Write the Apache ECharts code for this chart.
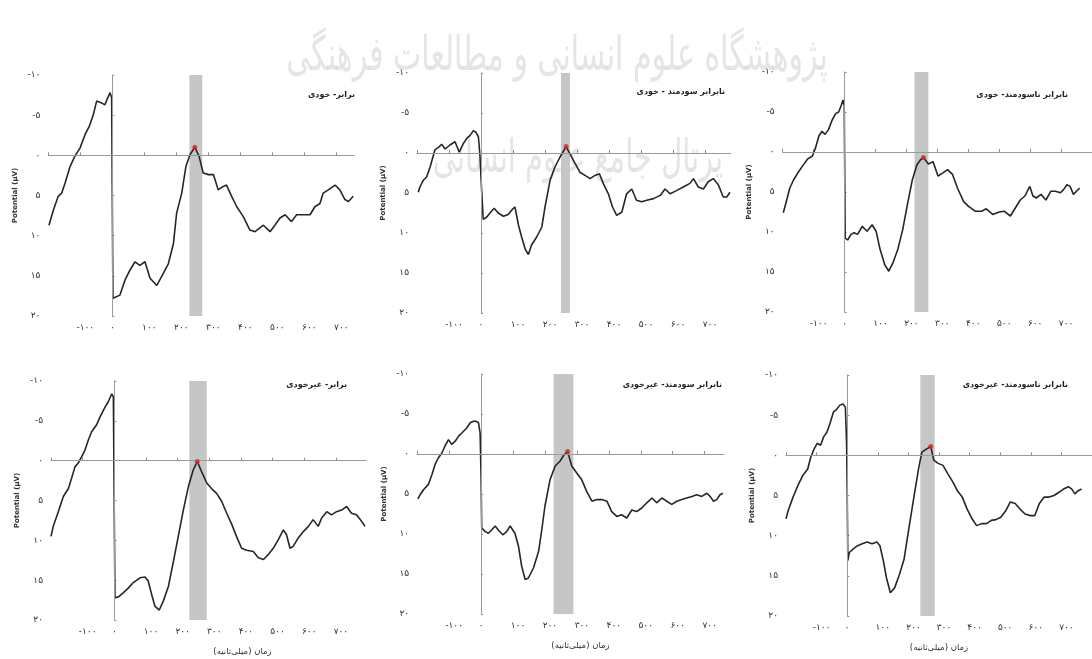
<!DOCTYPE html>
<html>
<head>
<meta charset="utf-8">
<script src="https://cdn.jsdelivr.net/npm/echarts/dist/echarts.min.js"></script>
<style>
html,body{margin:0;padding:0;background:#fff;}
#chart{width:1092px;height:659px;}
</style>
</head>
<body>
<div id="chart"></div>
<script>
// ---------- data ----------
const panelTitles = ['برابر- خودی','نابرابر سودمند - خودی','نابرابر ناسودمند- خودی','برابر- غیرخودی','نابرابر سودمند- غیرخودی','نابرابر ناسودمند- غیرخودی'];
const yAxisName = 'Potential (μV)';
const xAxisName = 'زمان (میلی‌ثانیه)';
const xTickValues = [-100, 0, 100, 200, 300, 400, 500, 600, 700];
const xTickLabels = ['-۱۰۰','۰','۱۰۰','۲۰۰','۳۰۰','۴۰۰','۵۰۰','۶۰۰','۷۰۰'];
const yTickValues = [-10, -5, 0, 5, 10, 15, 20];
const yTickLabels = ['-۱۰','-۵','۰','۵','۱۰','۱۵','۲۰'];
const watermarkLines = ['پژوهشگاه علوم انسانی و مطالعات فرهنگی','پرتال جامع علوم انسانی'];

const bandStart = [241, 250, 226, 237, 227, 239];
const bandEnd   = [281, 278, 271, 292, 289, 286];
const peakTime  = [258, 266, 255, 262, 271, 273];
const peakValue = [-1.0, -0.8, 0.7, 0.1, -0.3, -1.1];

const p1Time = [-198,-184,-169,-158,-148,-132,-117,-101,-85,-72,-59,-49,-33,-23,-16,-7,-2,2,8,24,40,55,71,86,102,118,139,154,175,191,201,217,230,243,258,271,284,300,316,331,345,357,373,389,409,430,446,472,493,508,524,540,560,576,597,618,633,649,659,675,696,711,727,738,753];
const p1Volt = [8.7,6.8,5.1,4.7,3.5,1.4,0.1,-0.9,-2.6,-3.6,-5.1,-6.75,-6.5,-6.3,-7.0,-7.8,-7.2,17.8,17.8,17.4,15.5,14.3,13.25,13.7,13.25,15.3,16.2,15.1,13.5,11.0,7.2,4.7,1.4,-0.1,-1.0,0.1,2.2,2.4,2.4,4.3,3.9,3.7,5.1,6.4,7.6,9.3,9.5,8.7,9.5,8.7,7.8,7.4,8.25,7.4,7.4,7.4,6.4,6.0,4.7,4.3,3.7,4.3,5.5,5.75,5.1];

const p2Time = [-196,-191,-180,-170,-159,-144,-133,-123,-112,-97,-81,-68,-55,-43,-34,-24,-16,-8,-3,2,7,18,30,41,54,70,85,99,106,117,127,138,148,158,174,190,200,216,231,247,266,278,294,309,325,341,356,370,382,398,411,424,440,455,471,486,502,518,539,560,575,591,611,632,653,664,679,695,710,726,742,757,768,778];
const p2Volt = [4.9,4.25,3.4,3.0,1.75,-0.4,-0.7,-1.1,-0.5,-1.0,-1.4,-0.1,-1.2,-1.9,-2.2,-2.8,-2.6,-2.0,0.5,4.7,8.3,8.0,7.4,6.9,7.5,7.9,7.7,7.0,6.75,9.0,10.5,12.0,12.7,11.5,10.5,9.25,6.75,3.4,1.75,0.5,-0.8,0.1,1.3,2.4,2.8,3.2,2.8,2.6,3.8,5.1,6.75,7.8,7.4,5.1,4.5,5.9,6.1,5.9,5.7,5.3,4.5,5.1,4.7,4.25,3.8,3.2,4.25,4.5,3.6,3.2,4.0,5.5,5.5,4.9];

const p3Time = [-198,-187,-177,-165,-151,-135,-120,-104,-94,-83,-73,-63,-52,-40,-29,-19,-10,-5,-1,2,10,21,31,42,57,73,89,102,115,130,143,156,172,188,203,219,234,245,255,271,286,302,318,333,349,365,385,401,422,443,458,479,500,516,536,552,568,583,599,609,620,635,651,667,682,698,708,719,729,740,750,760];
const p3Volt = [7.6,6.0,4.5,3.5,2.6,1.7,0.9,0.5,-0.5,-2.0,-2.6,-2.2,-2.8,-4.0,-4.8,-5.0,-5.9,-6.5,-5.8,10.75,11.0,10.3,10.1,10.3,9.3,9.9,9.1,9.9,12.2,14.1,14.9,13.9,12.2,9.7,6.6,3.5,1.6,1.0,0.7,1.5,1.2,3.0,2.6,2.2,2.8,4.5,6.2,6.8,7.4,7.4,7.1,7.8,7.5,7.4,8.0,7.0,6.0,5.5,4.3,5.5,5.75,5.3,6.0,4.9,4.9,5.1,4.7,4.1,4.3,5.3,4.9,4.5];

const p4Time = [-200,-193,-177,-161,-145,-135,-124,-114,-103,-93,-82,-72,-56,-45,-29,-19,-8,-3,2,13,28,44,60,81,97,107,118,128,142,155,171,186,202,218,234,249,262,276,292,307,323,339,355,371,386,402,418,439,455,471,486,502,518,534,544,555,565,581,597,613,628,644,655,671,686,702,718,734,749,765,781,792];
const p4Volt = [9.5,8.25,6.4,4.5,3.5,2.2,0.75,0.3,-0.5,-1.3,-2.6,-3.6,-4.5,-5.5,-6.75,-7.4,-8.4,-8.0,17.2,17.1,16.6,16.0,15.3,14.7,14.6,15.1,16.8,18.25,18.75,17.6,15.75,12.8,9.5,6.2,3.25,1.2,0.1,1.4,2.8,3.5,4.1,5.1,6.6,8.0,9.5,11.0,11.25,11.4,12.2,12.4,11.8,11.0,9.9,8.7,9.3,11.0,10.75,9.7,8.9,8.25,7.4,8.25,7.2,6.4,6.8,6.4,6.2,5.75,6.6,6.8,7.6,8.25];

const p5Time = [-198,-191,-181,-165,-154,-144,-134,-123,-113,-102,-92,-81,-71,-61,-45,-34,-24,-16,-8,-3,0,2,13,23,33,44,54,68,80,91,106,117,127,138,148,164,180,190,200,216,232,247,260,271,284,300,315,331,347,362,378,394,409,425,440,456,472,487,503,519,535,550,566,581,597,613,628,644,660,675,691,707,717,728,738,748,757];
const p5Volt = [5.6,5.1,4.5,3.8,2.6,1.3,0.5,-0.1,-1.0,-1.8,-1.2,-1.6,-2.2,-2.6,-3.25,-3.9,-4.1,-4.1,-3.9,-2.6,2.8,9.25,9.7,9.9,9.5,9.0,9.5,10.1,9.7,9.0,9.9,11.5,14.0,15.7,15.5,14.25,12.2,9.5,6.5,3.2,1.5,0.9,0.1,-0.3,1.5,2.4,3.2,4.7,5.9,5.7,5.7,5.9,7.2,7.8,7.6,8.0,7.0,7.2,6.75,6.1,5.5,6.1,5.5,5.9,6.3,5.9,5.7,5.5,5.3,5.1,5.3,4.9,5.3,5.9,5.7,5.1,4.9];

const p6Time = [-200,-193,-177,-161,-145,-129,-119,-108,-98,-87,-77,-66,-56,-45,-35,-24,-14,-6,-2,0,2,7,18,34,49,65,81,97,107,118,128,141,155,171,186,202,218,234,244,260,273,283,297,313,329,345,360,376,392,408,423,439,455,471,486,502,518,533,549,565,581,597,613,628,644,660,676,692,707,723,734,744,755,766];
const p6Volt = [7.9,6.9,5.2,3.75,2.5,1.7,0.2,-0.8,-1.5,-1.25,-2.3,-2.9,-4.0,-5.4,-5.7,-6.25,-6.4,-6.0,-1.5,4.4,13.1,12.1,11.7,11.25,11.0,10.8,11.0,10.8,11.25,13.1,15.2,17.1,16.5,14.8,12.9,9.0,5.2,1.5,-0.4,-0.8,-1.1,0.6,1.0,1.25,2.3,3.3,4.4,5.2,6.7,7.9,8.75,8.5,8.5,8.1,8.0,7.7,6.9,5.8,6.0,6.7,7.3,7.5,7.5,6.0,5.2,5.2,5.0,4.6,4.2,3.9,4.2,4.8,4.4,4.2];

const panelTimes = [p1Time, p2Time, p3Time, p4Time, p5Time, p6Time];
const panelVolts = [p1Volt, p2Volt, p3Volt, p4Volt, p5Volt, p6Volt];

// ---------- layout (pixels) ----------
const layout = [
  {left: 48.3, top: 75,  width: 305.6, height: 241, xMin: -200, xMax: 755, titleX: 355,  titleY: 95},
  {left: 417,  top: 73,  width: 313.6, height: 240, xMin: -200, xMax: 780, titleX: 725,  titleY: 92},
  {left: 782.7,top: 72,  width: 320,   height: 240, xMin: -200, xMax: 800, titleX: 1068, titleY: 95},
  {left: 51,   top: 381, width: 315,   height: 239, xMin: -200, xMax: 795, titleX: 347,  titleY: 385},
  {left: 417.2,top: 374, width: 306.6, height: 240, xMin: -200, xMax: 760, titleX: 722,  titleY: 385},
  {left: 786,  top: 375, width: 316,   height: 241, xMin: -200, xMax: 800, titleX: 1068, titleY: 385}
];
const nameShift = [0, 0, 0, 68, 20, 0];
const FONT = '"DejaVu Sans", "Liberation Sans", sans-serif';

const chart = echarts.init(document.getElementById('chart'), null, {renderer: 'canvas'});

const grids = layout.map(l => ({left: l.left, top: l.top, width: l.width, height: l.height}));
const xAxes = layout.map((l, i) => ({
  type: 'value', gridIndex: i, min: l.xMin, max: l.xMax, interval: 100,
  axisLine: {show: true, lineStyle: {color: '#8c8c8c', width: 1}},
  axisTick: {show: true, inside: true, length: 3, lineStyle: {color: '#8c8c8c'}},
  splitLine: {show: false},
  axisLabel: {
    fontSize: 9, color: '#333', margin: 7, fontFamily: FONT, showMaxLabel: false,
    formatter: v => {
      const k = xTickValues.indexOf(v);
      if (k < 0) return '';
      return (v === 0 ? '{z|' : '{a|') + xTickLabels[k] + '}';
    },
    rich: {
      a: {fontSize: 9, color: '#333', fontFamily: FONT, padding: [0, 0, 0, 10]},
      z: {fontSize: 9, color: '#333', fontFamily: FONT}
    }
  },
  name: i >= 3 ? xAxisName : '', nameLocation: 'middle', nameGap: 27,
  nameTextStyle: {fontSize: 8.5, color: '#333', fontFamily: FONT, padding: [0, 0, 0, nameShift[i]]}
}));
const yAxes = layout.map((l, i) => ({
  type: 'value', gridIndex: i, inverse: true, min: -10, max: 20, interval: 5,
  axisLine: {show: true, lineStyle: {color: '#8c8c8c', width: 1}},
  axisTick: {show: true, inside: true, length: 2, lineStyle: {color: '#8c8c8c'}},
  splitLine: {show: false},
  axisLabel: {
    fontSize: 9, color: '#333', margin: 8, fontFamily: FONT,
    formatter: v => { const k = yTickValues.indexOf(v); return k >= 0 ? yTickLabels[k] : ''; }
  },
  name: yAxisName, nameLocation: 'middle', nameGap: 30,
  nameTextStyle: {fontSize: 7, fontWeight: 'bold', color: '#333', fontFamily: FONT}
}));

const series = [];
layout.forEach((l, i) => {
  series.push({
    type: 'line', xAxisIndex: i, yAxisIndex: i,
    data: panelTimes[i].map((t, k) => [t, panelVolts[i][k]]),
    symbol: 'none', showSymbol: false, clip: true,
    lineStyle: {color: '#262626', width: 1.6},
    z: 3,
    markArea: {silent: true, itemStyle: {color: '#c6c6c6'},
      data: [[{xAxis: bandStart[i]}, {xAxis: bandEnd[i]}]]},
    markLine: {silent: true, symbol: 'none', animation: false,
      label: {show: false},
      lineStyle: {color: '#9a9a9a', width: 1, type: 'solid'},
      data: [{xAxis: 0}, {yAxis: 0}]}
  });
  series.push({
    type: 'scatter', xAxisIndex: i, yAxisIndex: i,
    data: [[peakTime[i], peakValue[i]]],
    symbolSize: 5, itemStyle: {color: '#e0242a'}, z: 5
  });
});

const graphics = [
  {type: 'text', x: 557, y: 58, scaleY: 1.6, z: -10, silent: true,
   style: {text: watermarkLines[0], font: '30px ' + FONT, fill: 'rgba(150,150,150,0.25)',
           textAlign: 'center', textVerticalAlign: 'middle'}},
  {type: 'text', x: 578, y: 160, scaleY: 1.6, z: -10, silent: true,
   style: {text: watermarkLines[1], font: '29px ' + FONT, fill: 'rgba(150,150,150,0.25)',
           textAlign: 'center', textVerticalAlign: 'middle'}}
];
layout.forEach((l, i) => {
  graphics.push({type: 'text', x: l.titleX, y: l.titleY, z: 10, silent: true,
    style: {text: panelTitles[i], font: 'bold 8px ' + FONT, fill: '#222',
            textAlign: 'right', textVerticalAlign: 'middle'}});
});

chart.setOption({
  animation: false,
  backgroundColor: '#fff',
  grid: grids, xAxis: xAxes, yAxis: yAxes, series: series, graphic: graphics
});
</script>
</body>
</html>
